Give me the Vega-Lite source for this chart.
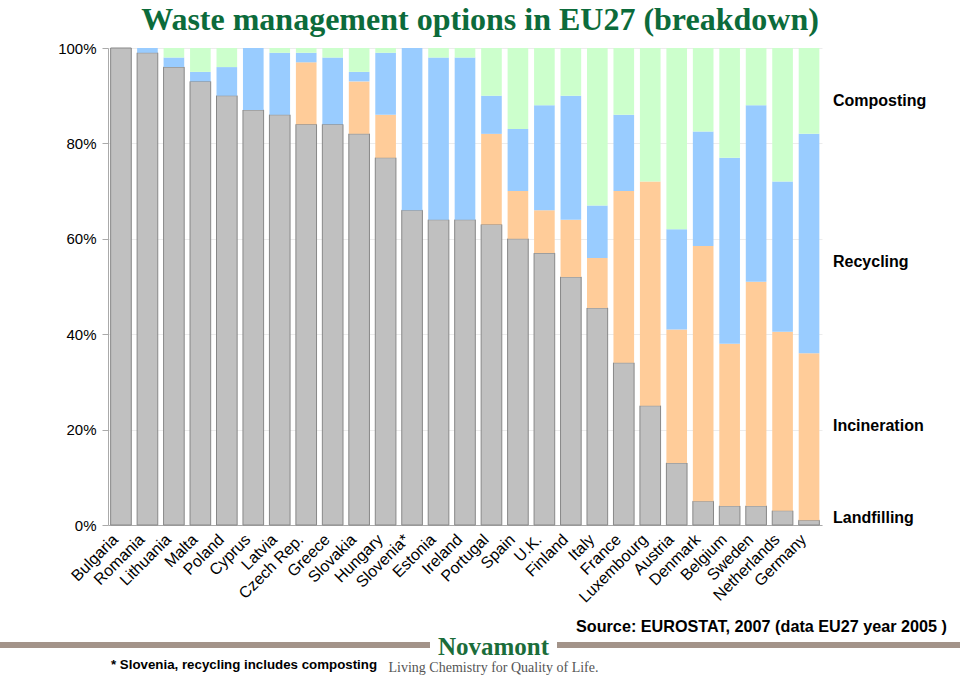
{
  "$schema": "https://vega.github.io/schema/vega-lite/v6.json",
  "padding": {"left": -3, "top": 4, "right": 3, "bottom": 0},
  "background": "white",
  "title": {
    "text": "Waste management options in EU27 (breakdown)",
    "font": "Liberation Serif",
    "fontSize": 32,
    "fontWeight": "bold",
    "color": "#0c6b3b",
    "anchor": "middle",
    "offset": 4
  },
  "config": {"view": {"stroke": null}, "font": "Liberation Sans"},
  "datasets": {
    "stackRanks": [
      {"option": "Landfilling", "stack_rank": 1},
      {"option": "Incineration", "stack_rank": 2},
      {"option": "Recycling", "stack_rank": 3},
      {"option": "Composting", "stack_rank": 4}
    ]
  },
  "spacing": 12,
  "vconcat": [
    {
      "spacing": 0,
      "hconcat": [
        {
          "width": 1,
          "height": 477,
          "data": {"values": [{"part": "spacer"}]},
          "mark": {"type": "rule", "strokeOpacity": 0, "strokeWidth": 0},
          "encoding": {"y": {"datum": 0, "type": "quantitative", "scale": {"domain": [0, 1]}, "axis": null}}
        },
        {
          "spacing": 11,
          "hconcat": [
            {
              "width": 714,
              "height": 477,
              "data": {
                "values": [
                  {"country": "Bulgaria", "Landfilling": 100, "Incineration": 0, "Recycling": 0, "Composting": 0},
                  {"country": "Romania", "Landfilling": 99, "Incineration": 0, "Recycling": 1, "Composting": 0},
                  {"country": "Lithuania", "Landfilling": 96, "Incineration": 0, "Recycling": 2, "Composting": 2},
                  {"country": "Malta", "Landfilling": 93, "Incineration": 0, "Recycling": 2, "Composting": 5},
                  {"country": "Poland", "Landfilling": 90, "Incineration": 0, "Recycling": 6, "Composting": 4},
                  {"country": "Cyprus", "Landfilling": 87, "Incineration": 0, "Recycling": 13, "Composting": 0},
                  {"country": "Latvia", "Landfilling": 86, "Incineration": 0, "Recycling": 13, "Composting": 1},
                  {"country": "Czech Rep.", "Landfilling": 84, "Incineration": 13, "Recycling": 2, "Composting": 1},
                  {"country": "Greece", "Landfilling": 84, "Incineration": 0, "Recycling": 14, "Composting": 2},
                  {"country": "Slovakia", "Landfilling": 82, "Incineration": 11, "Recycling": 2, "Composting": 5},
                  {"country": "Hungary", "Landfilling": 77, "Incineration": 9, "Recycling": 13, "Composting": 1},
                  {"country": "Slovenia*", "Landfilling": 66, "Incineration": 0, "Recycling": 34, "Composting": 0},
                  {"country": "Estonia", "Landfilling": 64, "Incineration": 0, "Recycling": 34, "Composting": 2},
                  {"country": "Ireland", "Landfilling": 64, "Incineration": 0, "Recycling": 34, "Composting": 2},
                  {"country": "Portugal", "Landfilling": 63, "Incineration": 19, "Recycling": 8, "Composting": 10},
                  {"country": "Spain", "Landfilling": 60, "Incineration": 10, "Recycling": 13, "Composting": 17},
                  {"country": "U.K.", "Landfilling": 57, "Incineration": 9, "Recycling": 22, "Composting": 12},
                  {"country": "Finland", "Landfilling": 52, "Incineration": 12, "Recycling": 26, "Composting": 10},
                  {"country": "Italy", "Landfilling": 45.5, "Incineration": 10.5, "Recycling": 11, "Composting": 33},
                  {"country": "France", "Landfilling": 34, "Incineration": 36, "Recycling": 16, "Composting": 14},
                  {"country": "Luxembourg", "Landfilling": 25, "Incineration": 47, "Recycling": 0, "Composting": 28},
                  {"country": "Austria", "Landfilling": 13, "Incineration": 28, "Recycling": 21, "Composting": 38},
                  {"country": "Denmark", "Landfilling": 5, "Incineration": 53.5, "Recycling": 24, "Composting": 17.5},
                  {"country": "Belgium", "Landfilling": 4, "Incineration": 34, "Recycling": 39, "Composting": 23},
                  {"country": "Sweden", "Landfilling": 4, "Incineration": 47, "Recycling": 37, "Composting": 12},
                  {"country": "Netherlands", "Landfilling": 3, "Incineration": 37.5, "Recycling": 31.5, "Composting": 28},
                  {"country": "Germany", "Landfilling": 1, "Incineration": 35, "Recycling": 46, "Composting": 18}
                ]
              },
              "transform": [
                {"fold": ["Landfilling", "Incineration", "Recycling", "Composting"], "as": ["option", "share"]},
                {"lookup": "option", "from": {"data": {"name": "stackRanks"}, "key": "option", "fields": ["stack_rank"]}}
              ],
              "mark": {"type": "bar", "strokeWidth": 1},
              "encoding": {
                "x": {
                  "field": "country",
                  "type": "nominal",
                  "sort": null,
                  "scale": {"paddingInner": 0.22, "paddingOuter": 0.1},
                  "axis": {
                    "title": null,
                    "labelAngle": -45,
                    "labelFontSize": 16,
                    "labelColor": "#000000",
                    "domainColor": "#aaaaaa",
                    "ticks": false,
                    "labelPadding": 6,
                    "labelOffset": -11
                  }
                },
                "y": {
                  "field": "share",
                  "type": "quantitative",
                  "stack": "normalize",
                  "axis": {
                    "title": null,
                    "format": ".0%",
                    "values": [0, 0.2, 0.4, 0.6, 0.8, 1],
                    "labelFontSize": 15,
                    "labelColor": "#000000",
                    "gridColor": "#ececec",
                    "domainColor": "#aaaaaa",
                    "tickColor": "#aaaaaa",
                    "tickSize": 6,
                    "labelPadding": 6,
                    "minExtent": 107
                  }
                },
                "order": {"field": "stack_rank", "type": "quantitative"},
                "color": {
                  "field": "option",
                  "type": "nominal",
                  "scale": {
                    "domain": ["Landfilling", "Incineration", "Recycling", "Composting"],
                    "range": ["#c0c0c0", "#ffcc99", "#99ccff", "#ccffcc"]
                  },
                  "legend": null
                },
                "stroke": {
                  "condition": {"test": "datum.option === 'Landfilling'", "value": "#888888"},
                  "value": null
                }
              }
            },
            {
              "width": 127,
              "height": 477,
              "layer": [
                {
                  "data": {"values": [{"label": "Composting"}]},
                  "mark": {"type": "text", "align": "left", "baseline": "middle", "fontSize": 16, "fontWeight": "bold", "color": "#000000"},
                  "encoding": {
                    "x": {"datum": 0, "type": "quantitative", "scale": {"domain": [0, 1]}, "axis": null},
                    "y": {"datum": 0.889, "type": "quantitative", "scale": {"domain": [0, 1]}, "axis": null},
                    "text": {"field": "label"}
                  }
                },
                {
                  "data": {"values": [{"label": "Recycling"}]},
                  "mark": {"type": "text", "align": "left", "baseline": "middle", "fontSize": 16, "fontWeight": "bold", "color": "#000000"},
                  "encoding": {
                    "x": {"datum": 0, "type": "quantitative"},
                    "y": {"datum": 0.551, "type": "quantitative"},
                    "text": {"field": "label"}
                  }
                },
                {
                  "data": {"values": [{"label": "Incineration"}]},
                  "mark": {"type": "text", "align": "left", "baseline": "middle", "fontSize": 16, "fontWeight": "bold", "color": "#000000"},
                  "encoding": {
                    "x": {"datum": 0, "type": "quantitative"},
                    "y": {"datum": 0.2075, "type": "quantitative"},
                    "text": {"field": "label"}
                  }
                },
                {
                  "data": {"values": [{"label": "Landfilling"}]},
                  "mark": {"type": "text", "align": "left", "baseline": "middle", "fontSize": 16, "fontWeight": "bold", "color": "#000000"},
                  "encoding": {
                    "x": {"datum": 0, "type": "quantitative"},
                    "y": {"datum": 0.0147, "type": "quantitative"},
                    "text": {"field": "label"}
                  }
                }
              ]
            }
          ]
        }
      ]
    },
    {
      "spacing": 0,
      "bounds": "flush",
      "hconcat": [
        {
          "width": 430,
          "height": 6,
          "data": {"values": [{"part": "left rule"}]},
          "mark": {"type": "rule", "color": "#a39389", "strokeWidth": 6},
          "encoding": {"y": {"datum": 0.5, "type": "quantitative", "scale": {"domain": [0, 1]}, "axis": null}},
          "title": {
            "text": "* Slovenia, recycling includes composting",
            "orient": "bottom",
            "anchor": "start",
            "dx": 114,
            "offset": 10,
            "font": "Liberation Sans",
            "fontSize": 13.3,
            "fontWeight": "bold",
            "color": "#000000"
          }
        },
        {
          "width": 127,
          "height": 6,
          "data": {"values": [{"part": "logo"}]},
          "mark": {"type": "rule", "strokeOpacity": 0},
          "encoding": {"y": {"datum": 0.5, "type": "quantitative", "scale": {"domain": [0, 1]}, "axis": null}},
          "title": {
            "text": "Novamont",
            "subtitle": "Living Chemistry for Quality of Life.",
            "orient": "bottom",
            "anchor": "middle",
            "offset": -13,
            "font": "Liberation Serif",
            "fontSize": 25,
            "fontWeight": "bold",
            "color": "#1b6d3a",
            "subtitleFont": "Liberation Serif",
            "subtitleFontSize": 14,
            "subtitleColor": "#555555",
            "subtitlePadding": 1
          }
        },
        {
          "width": 403,
          "height": 6,
          "data": {"values": [{"part": "right rule"}]},
          "mark": {"type": "rule", "color": "#a39389", "strokeWidth": 6},
          "encoding": {"y": {"datum": 0.5, "type": "quantitative", "scale": {"domain": [0, 1]}, "axis": null}},
          "title": {
            "text": "Source: EUROSTAT, 2007 (data EU27 year 2005 )",
            "orient": "top",
            "anchor": "start",
            "dx": 22,
            "offset": 7,
            "font": "Liberation Sans",
            "fontSize": 16.2,
            "fontWeight": "bold",
            "color": "#000000"
          }
        }
      ]
    }
  ]
}
